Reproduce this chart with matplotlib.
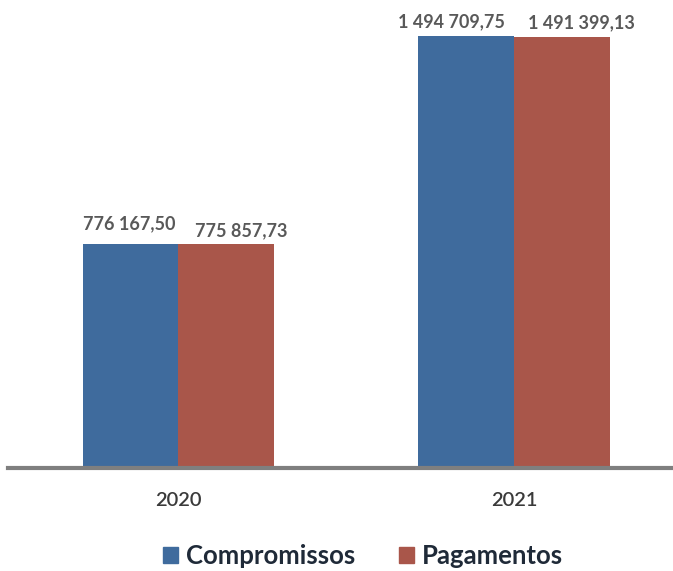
import matplotlib
matplotlib.use("Agg")
import matplotlib.pyplot as plt
import numpy as np
from matplotlib.patches import Patch

years = ["2020", "2021"]
compromissos = [776167.50, 1494709.75]
pagamentos = [775857.73, 1491399.13]
labels_comp = ["776 167,50", "1 494 709,75"]
labels_pag = ["775 857,73", "1 491 399,13"]

blue = "#3f6b9d"
red = "#a9564a"

fig = plt.figure(figsize=(6.73, 5.71), dpi=100)
ax = fig.add_axes([8/673, 103/571, 665/673, 462.4/571])

x = np.arange(len(years))
w = 0.285
ax.bar(x - w/2, compromissos, w, color=blue, zorder=2)
ax.bar(x + w/2, pagamentos, w, color=red, zorder=2)

ax.set_xlim(-0.508, (673 - 178.5) / 335.5)
ax.set_ylim(0, 1.6e6)

for s in ["top", "right", "left"]:
    ax.spines[s].set_visible(False)
ax.spines["bottom"].set_color("#7f7f7f")
ax.spines["bottom"].set_linewidth(3)
ax.spines["bottom"].set_zorder(3)
ax.set_yticks([])
ax.set_xticks(x)
ax.set_xticklabels(years, fontsize=14.5, color="#3a3a3a", family="Lato", fontweight="semibold")
ax.tick_params(axis="x", length=0, pad=17)

offs_comp = [(-1, 11), (-15, 6)]
offs_pag = [(15, 5), (20, 6)]
for i in range(len(years)):
    ax.annotate(labels_comp[i], (x[i] - w/2, compromissos[i]), xytext=offs_comp[i],
                textcoords="offset pixels", ha="center", va="bottom",
                fontsize=13, fontweight="bold", color="#595959", family="Lato")
    ax.annotate(labels_pag[i], (x[i] + w/2, pagamentos[i]), xytext=offs_pag[i],
                textcoords="offset pixels", ha="center", va="bottom",
                fontsize=13, fontweight="bold", color="#595959", family="Lato")

handles = [Patch(color=blue, label="Compromissos"), Patch(color=red, label="Pagamentos")]
leg = fig.legend(handles=handles, loc="center", bbox_to_anchor=(0.539, 0.026), ncol=2,
                 frameon=False, handlelength=0.6, handleheight=0.6, handletextpad=0.3,
                 columnspacing=1.7, prop={"family": "Lato", "weight": "bold", "size": 18.5})
for t in leg.get_texts():
    t.set_color("#1f2a38")

fig.savefig("out.png", dpi=100)
